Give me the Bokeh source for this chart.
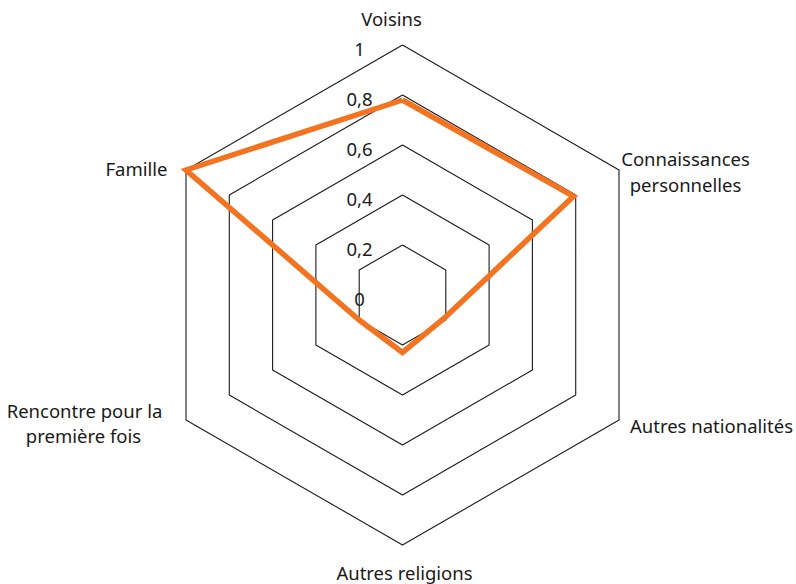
import numpy as np
from bokeh.plotting import figure
from bokeh.models import ColumnDataSource
from bokeh.core.properties import value
from bokeh.embed import file_html
from bokeh.resources import INLINE

# ---- data ----
categories = ["Voisins", "Connaissances personnelles", "Autres nationalités",
              "Autres religions", "Rencontre pour la première fois", "Famille"]
values = [0.78, 0.79, 0.19, 0.23, 0.2, 1.0]
levels = [0.2, 0.4, 0.6, 0.8, 1.0]
tick_values = [0, 0.2, 0.4, 0.6, 0.8, 1.0]
tick_labels = ["0", "0,2", "0,4", "0,6", "0,8", "1"]

FONT = "Noto Sans"
FS = "18.5px"
W, H = 796, 584
S = 250.0          # pixels per unit radius
CX, CY = 402.0, 294.5  # center in figure pixels (from top-left)

p = figure(width=W, height=H, output_backend="svg", toolbar_location=None,
           x_range=(-CX / S, (W - CX) / S), y_range=(-(H - CY) / S, CY / S),
           min_border=0)
p.axis.visible = False
p.grid.visible = False
p.outline_line_color = None
p.background_fill_color = "white"

n = len(categories)
angles = np.pi / 2 - np.arange(n) * 2 * np.pi / n

# grid hexagons
xs, ys = [], []
for r in levels:
    xs.append(list(r * np.cos(angles)) + [r * np.cos(angles[0])])
    ys.append(list(r * np.sin(angles)) + [r * np.sin(angles[0])])
p.multi_line(xs, ys, line_color="#1a1a1a", line_width=1.1)

# data polygon
v = np.array(values)
dx = list(v * np.cos(angles)) + [v[0] * np.cos(angles[0])]
dy = list(v * np.sin(angles)) + [v[0] * np.sin(angles[0])]
p.line(dx, dy, line_color="#f37321", line_width=5.5, line_join="miter")

def px(sx):
    return (sx - CX) / S

def py(sy):
    return (CY - sy) / S

# tick labels
tsrc = ColumnDataSource(dict(x=[px(359)] * len(tick_values),
                             y=[t - 4.5 / S for t in tick_values],
                             text=tick_labels))
p.text(x="x", y="y", text="text", source=tsrc, text_font=value(FONT),
       text_font_size=FS, text_align="center", text_baseline="middle",
       text_color="#1a1a1a")

# category labels (long names on two lines)
lab_text = ["Voisins", "Connaissances", "personnelles", "Autres nationalités",
            "Autres religions", "Rencontre pour la", "première fois", "Famille"]
lab_sx = [391, 685, 685, 711, 404, 84, 83, 136]
lab_sy = [18, 158, 184, 425, 572, 410, 435, 168]
lsrc = ColumnDataSource(dict(x=[px(s) for s in lab_sx], y=[py(s) for s in lab_sy],
                             text=lab_text))
p.text(x="x", y="y", text="text", source=lsrc, text_font=value(FONT),
       text_font_size=FS, text_align="center", text_baseline="middle",
       text_color="#1a1a1a")

open("out.html", "w").write(file_html(p, INLINE))
